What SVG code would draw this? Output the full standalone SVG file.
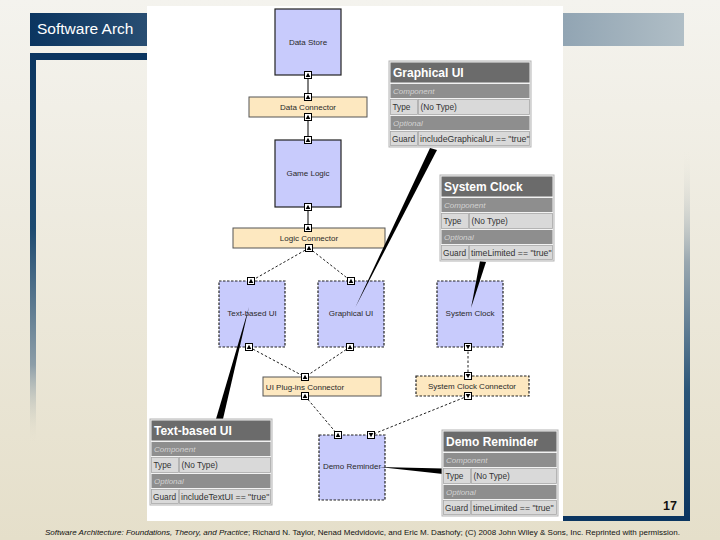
<svg xmlns="http://www.w3.org/2000/svg" xmlns:xlink="http://www.w3.org/1999/xlink" width="720" height="540" viewBox="0 0 720 540">
<defs>
<linearGradient id="bg" x1="0" y1="0" x2="0" y2="1">
<stop offset="0" stop-color="#f4f3ee"/>
<stop offset="1" stop-color="#e5dfca"/>
</linearGradient>
<linearGradient id="titleGrad" x1="0" y1="0" x2="1" y2="0">
<stop offset="0" stop-color="#0b3560"/>
<stop offset="1" stop-color="#b0bec6"/>
</linearGradient>
<linearGradient id="leftBar" x1="0" y1="0" x2="0" y2="1">
<stop offset="0" stop-color="#0b3560"/>
<stop offset="0.45" stop-color="#1d4a70"/>
<stop offset="0.8" stop-color="#8d9ea8"/>
<stop offset="1" stop-color="#e5dfca" stop-opacity="0"/>
</linearGradient>
<linearGradient id="rightBar" x1="0" y1="0" x2="0" y2="1">
<stop offset="0" stop-color="#eeebe0" stop-opacity="0"/>
<stop offset="0.3" stop-color="#9aa8b0"/>
<stop offset="0.65" stop-color="#2a5578"/>
<stop offset="1" stop-color="#0b3560"/>
</linearGradient>
<g id="portUp">
<rect x="-3.5" y="-3.5" width="7" height="7" fill="#fff" stroke="#000" stroke-width="1"/>
<polygon points="0,-2.3 2.3,2 -2.3,2" fill="#000"/>
</g>
<g id="portDown">
<rect x="-3.5" y="-3.5" width="7" height="7" fill="#fff" stroke="#000" stroke-width="1"/>
<polygon points="0,2.3 2.3,-2 -2.3,-2" fill="#000"/>
</g>
</defs>
<style>
.comp{fill:#c8cbfc;stroke:#222;stroke-width:1.2}
.compDash{fill:#c8cbfc;stroke:#222;stroke-width:1.2;stroke-dasharray:2.5 1.5}
.conn{fill:#fde8c0;stroke:#555;stroke-width:1}
.connDash{fill:#fde8c0;stroke:#222;stroke-width:1.2;stroke-dasharray:2.5 1.5}
.lbl{font-family:"Liberation Sans",Arial,sans-serif;font-size:8px;fill:#2a2a2a;text-anchor:middle}
.solid{stroke:#000;stroke-width:1;fill:none}
.dash{stroke:#222;stroke-width:1;fill:none;stroke-dasharray:2.5 2}
.wedge{fill:#000}
.sOuter{fill:#f2f2f2;stroke:#b4b4b4;stroke-width:1}
.sTitle{fill:#6b6b6b}
.sDark{fill:#8e8e8e}
.sCell{fill:#d9d9d9;stroke:#a8a8a8;stroke-width:0.8}
.sTitleTxt{font-family:"Liberation Sans",Arial,sans-serif;font-size:12px;font-weight:bold;fill:#fff}
.sItal{font-family:"Liberation Sans",Arial,sans-serif;font-size:8px;font-style:italic;fill:#d2d2d2}
.sTxt{font-family:"Liberation Sans",Arial,sans-serif;font-size:8.3px;fill:#333}
.sVal{font-family:"Liberation Sans",Arial,sans-serif;font-size:8.7px;fill:#333}
</style>

<g id="slide">
<rect x="0" y="0" width="720" height="540" fill="url(#bg)"/>
<rect x="30" y="13" width="654" height="33" fill="url(#titleGrad)"/>
<text x="37" y="34" font-family="Liberation Sans,Arial,sans-serif" font-size="15.5" fill="#fff">Software Arch</text>
<rect x="30" y="53" width="130" height="7" fill="#0b3560"/>
<rect x="30" y="53" width="6" height="390" fill="url(#leftBar)"/>
<rect x="684" y="150" width="6" height="371" fill="url(#rightBar)"/>
<rect x="560" y="516" width="130" height="5" fill="#0b3560"/>
<text x="670" y="510" font-family="Liberation Sans,Arial,sans-serif" font-size="12.5" font-weight="bold" fill="#111" text-anchor="middle">17</text>
<text x="45" y="535" font-family="Liberation Sans,Arial,sans-serif" font-size="7.8" fill="#111" textLength="635" lengthAdjust="spacingAndGlyphs"><tspan font-style="italic">Software Architecture: Foundations, Theory, and Practice</tspan>; Richard N. Taylor, Nenad Medvidovic, and Eric M. Dashofy; (C) 2008 John Wiley &amp; Sons, Inc. Reprinted with permission.</text>
</g>

<rect id="screenshot" x="147" y="6" width="416" height="515" fill="#fff"/>

<g id="connectors">
<line class="solid" x1="308" y1="78.5" x2="308" y2="93.5"/>
<line class="solid" x1="308" y1="120.5" x2="308" y2="136.5"/>
<line class="solid" x1="308" y1="210.5" x2="308" y2="224.5"/>
<line class="dash" x1="309" y1="248" x2="251" y2="281"/>
<line class="dash" x1="309" y1="248" x2="351" y2="281"/>
<line class="dash" x1="249" y1="347" x2="305" y2="377"/>
<line class="dash" x1="350" y1="347" x2="305" y2="377"/>
<line class="dash" x1="468" y1="347" x2="468" y2="376"/>
<line class="dash" x1="305" y1="396" x2="338" y2="435"/>
<line class="dash" x1="468" y1="396" x2="371" y2="435"/>
</g>

<g id="node-data-store">
<rect class="comp" x="275" y="9" width="66" height="66"/>
<text class="lbl" x="308" y="45">Data Store</text>
<use xlink:href="#portUp" x="308" y="75"/>
</g>
<g id="node-data-connector">
<rect class="conn" x="249" y="97" width="118" height="20"/>
<text class="lbl" x="308" y="110">Data Connector</text>
<use xlink:href="#portUp" x="308" y="97"/>
<use xlink:href="#portUp" x="308" y="117"/>
</g>
<g id="node-game-logic">
<rect class="comp" x="275" y="140" width="66" height="67"/>
<text class="lbl" x="308" y="176">Game Logic</text>
<use xlink:href="#portUp" x="308" y="140"/>
<use xlink:href="#portUp" x="308" y="207"/>
</g>
<g id="node-logic-connector">
<rect class="conn" x="233" y="228" width="152" height="20"/>
<text class="lbl" x="309" y="241">Logic Connector</text>
<use xlink:href="#portUp" x="308" y="228"/>
<use xlink:href="#portUp" x="309" y="248"/>
</g>
<g id="node-text-ui">
<rect class="compDash" x="219" y="281" width="66" height="66"/>
<text class="lbl" x="252" y="316">Text-based UI</text>
<use xlink:href="#portUp" x="251" y="281"/>
<use xlink:href="#portUp" x="249" y="347"/>
</g>
<g id="node-graphical-ui">
<rect class="compDash" x="318" y="281" width="66" height="66"/>
<text class="lbl" x="351" y="316">Graphical UI</text>
<use xlink:href="#portUp" x="351" y="281"/>
<use xlink:href="#portUp" x="350" y="347"/>
</g>
<g id="node-system-clock">
<rect class="compDash" x="437" y="281" width="66" height="66"/>
<text class="lbl" x="470" y="316">System Clock</text>
<use xlink:href="#portDown" x="468" y="347"/>
</g>
<g id="node-ui-plugins-connector">
<rect class="conn" x="263" y="377" width="118" height="19"/>
<text class="lbl" x="305" y="390">UI Plug-ins Connector</text>
<use xlink:href="#portUp" x="305" y="377"/>
<use xlink:href="#portUp" x="305" y="396"/>
</g>
<g id="node-system-clock-connector">
<rect class="connDash" x="416" y="376" width="113" height="20"/>
<text class="lbl" x="472" y="389">System Clock Connector</text>
<use xlink:href="#portDown" x="468" y="376"/>
<use xlink:href="#portDown" x="468" y="396"/>
</g>
<g id="node-demo-reminder">
<rect class="compDash" x="319" y="435" width="66" height="65"/>
<text class="lbl" x="352" y="469">Demo Reminder</text>
<use xlink:href="#portUp" x="338" y="435"/>
<use xlink:href="#portDown" x="371" y="435"/>
</g>

<g id="callouts">
<polygon class="wedge" points="430,148 437,150 355,308"/>
<polygon class="wedge" points="480,261 486,262 471,308"/>
<polygon class="wedge" points="216,419 223,419 249,307"/>
<polygon class="wedge" points="379,467 443,468.5 443,474"/>
</g>

<g id="sheet-graphical-ui" transform="translate(389,61)">
<rect class="sOuter" x="0" y="0" width="142" height="86"/>
<rect class="sTitle" x="1.5" y="1.5" width="139" height="20"/>
<text class="sTitleTxt" x="4" y="15.5">Graphical UI</text>
<rect class="sDark" x="1.5" y="23" width="139" height="14"/>
<text class="sItal" x="4" y="33">Component</text>
<rect class="sCell" x="1.5" y="38.5" width="27" height="15"/>
<rect class="sCell" x="29.5" y="38.5" width="111" height="15"/>
<text class="sTxt" x="3.5" y="49">Type</text>
<text class="sTxt" x="31.5" y="49">(No Type)</text>
<rect class="sDark" x="1.5" y="55" width="139" height="14"/>
<text class="sItal" x="4" y="65">Optional</text>
<rect class="sCell" x="1.5" y="70.5" width="27" height="14"/>
<rect class="sCell" x="29.5" y="70.5" width="111" height="14"/>
<text class="sTxt" x="3" y="81">Guard</text>
<text class="sVal" x="31" y="81">includeGraphicalUI == "true"</text>
</g>

<g id="sheet-system-clock" transform="translate(440,175)">
<rect class="sOuter" x="0" y="0" width="114" height="86"/>
<rect class="sTitle" x="1.5" y="1.5" width="111" height="20"/>
<text class="sTitleTxt" x="4" y="15.5">System Clock</text>
<rect class="sDark" x="1.5" y="23" width="111" height="14"/>
<text class="sItal" x="4" y="33">Component</text>
<rect class="sCell" x="1.5" y="38.5" width="27" height="15"/>
<rect class="sCell" x="29.5" y="38.5" width="83" height="15"/>
<text class="sTxt" x="3.5" y="49">Type</text>
<text class="sTxt" x="31.5" y="49">(No Type)</text>
<rect class="sDark" x="1.5" y="55" width="111" height="14"/>
<text class="sItal" x="4" y="65">Optional</text>
<rect class="sCell" x="1.5" y="70.5" width="27" height="14"/>
<rect class="sCell" x="29.5" y="70.5" width="83" height="14"/>
<text class="sTxt" x="3" y="81">Guard</text>
<text class="sVal" x="31" y="81">timeLimited == "true"</text>
</g>

<g id="sheet-text-ui" transform="translate(150,419)">
<rect class="sOuter" x="0" y="0" width="122" height="86"/>
<rect class="sTitle" x="1.5" y="1.5" width="119" height="20"/>
<text class="sTitleTxt" x="4" y="15.5">Text-based UI</text>
<rect class="sDark" x="1.5" y="23" width="119" height="14"/>
<text class="sItal" x="4" y="33">Component</text>
<rect class="sCell" x="1.5" y="38.5" width="27" height="15"/>
<rect class="sCell" x="29.5" y="38.5" width="91" height="15"/>
<text class="sTxt" x="3.5" y="49">Type</text>
<text class="sTxt" x="31.5" y="49">(No Type)</text>
<rect class="sDark" x="1.5" y="55" width="119" height="14"/>
<text class="sItal" x="4" y="65">Optional</text>
<rect class="sCell" x="1.5" y="70.5" width="27" height="14"/>
<rect class="sCell" x="29.5" y="70.5" width="91" height="14"/>
<text class="sTxt" x="3" y="81">Guard</text>
<text class="sVal" x="31" y="81">includeTextUI == "true"</text>
</g>

<g id="sheet-demo-reminder" transform="translate(442,430)">
<rect class="sOuter" x="0" y="0" width="116" height="86"/>
<rect class="sTitle" x="1.5" y="1.5" width="113" height="20"/>
<text class="sTitleTxt" x="4" y="15.5">Demo Reminder</text>
<rect class="sDark" x="1.5" y="23" width="113" height="14"/>
<text class="sItal" x="4" y="33">Component</text>
<rect class="sCell" x="1.5" y="38.5" width="27" height="15"/>
<rect class="sCell" x="29.5" y="38.5" width="85" height="15"/>
<text class="sTxt" x="3.5" y="49">Type</text>
<text class="sTxt" x="31.5" y="49">(No Type)</text>
<rect class="sDark" x="1.5" y="55" width="113" height="14"/>
<text class="sItal" x="4" y="65">Optional</text>
<rect class="sCell" x="1.5" y="70.5" width="27" height="14"/>
<rect class="sCell" x="29.5" y="70.5" width="85" height="14"/>
<text class="sTxt" x="3" y="81">Guard</text>
<text class="sVal" x="31" y="81">timeLimited == "true"</text>
</g>
</svg>
